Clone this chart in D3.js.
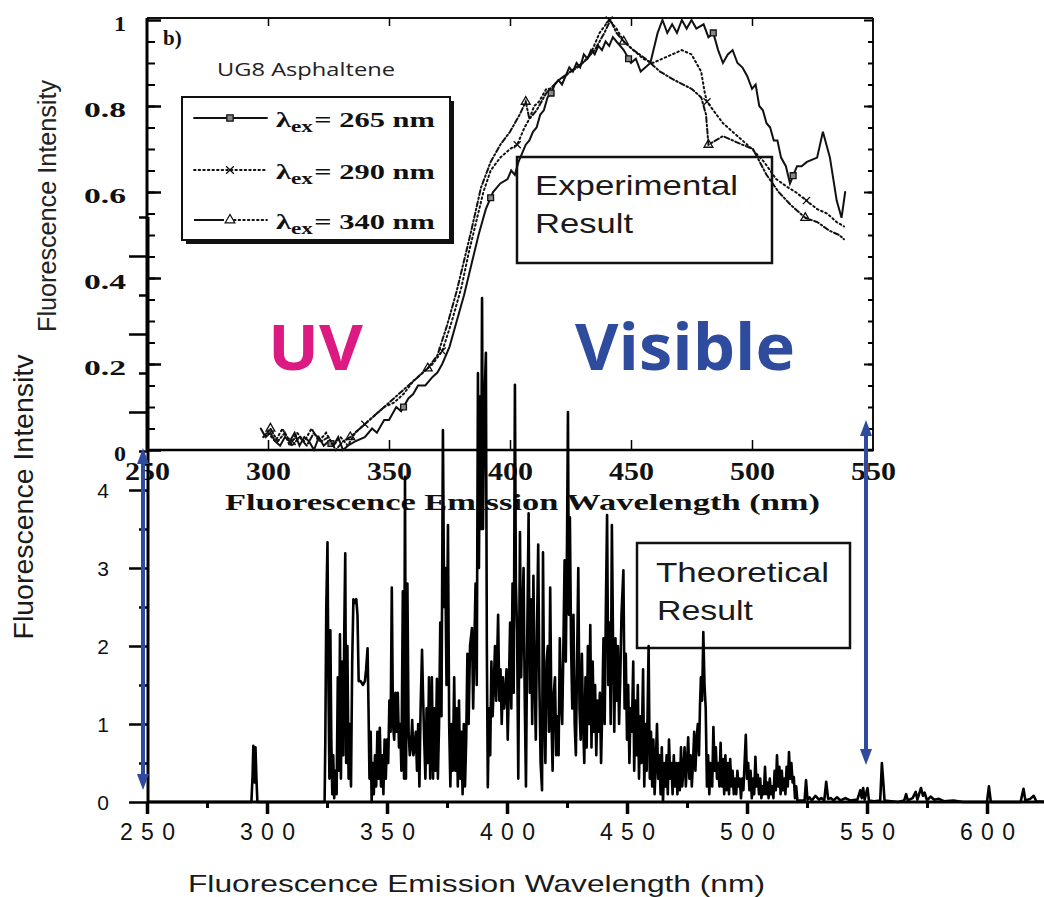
<!DOCTYPE html>
<html>
<head>
<meta charset="utf-8">
<script src="https://cdnjs.cloudflare.com/ajax/libs/d3/7.8.5/d3.min.js"></script>
<style>
  body { margin: 0; background: #fff; }
  svg { display: block; }
</style>
</head>
<body>
<script>
// page size
var svgWidth = 1044;
var svgHeight = 897;

// ---- top panel: measured emission spectra (wavelength nm, normalised intensity)
var exp265 = [[297,0.05],[299,0.03],[301,0.04],[303,0.02],[305,0.01],[307,0.03],[309,0.02],[311,0.04],[313,0.01],
  [315,0.03],[317,0.02],[319,0.0],[321,0.03],[323,0.01],[325,0.02],[327,0.01],[329,0.03],[331,0.0],[333,0.01],
  [336,0.02],[340,0.03],[343,0.05],[345,0.04],[348,0.07],[350,0.07],[353,0.1],[355,0.09],[358,0.12],[360,0.13],
  [362,0.15],[365,0.15],[368,0.17],[370,0.18],[372,0.2],[375,0.24],[378,0.3],[381,0.36],[384,0.43],[387,0.5],
  [390,0.56],[393,0.6],[396,0.62],[399,0.63],[400.5,0.65],[402,0.64],[403.5,0.67],[405,0.69],[406.5,0.71],
  [408,0.72],[409.5,0.74],[411,0.75],[412.5,0.78],[414,0.79],[415.5,0.82],[417,0.83],[418.5,0.85],[420,0.86],
  [421.5,0.85],[423,0.87],[424.5,0.89],[426,0.88],[427.5,0.9],[429,0.89],[430.5,0.92],[432,0.91],[433.5,0.93],
  [435,0.92],[436.5,0.94],[438,0.93],[439.5,0.95],[441,0.94],[442.5,0.96],[444,0.95],[447,0.93],[450,0.9],
  [452,0.91],[454,0.88],[456,0.89],[458,0.9],[461,0.97],[463,1.0],[465,0.97],[467,0.99],[469,0.97],[471,1.0],
  [473,0.98],[475,1.0],[477,0.98],[480,0.99],[482,0.96],[484,0.97],[486,0.93],[488,0.9],[490,0.92],[492,0.93],
  [494,0.9],[496,0.89],[498,0.87],[500,0.84],[501.5,0.85],[503,0.8],[504.5,0.79],[506,0.76],[507.5,0.75],
  [509,0.72],[510.5,0.72],[512,0.68],[514,0.66],[515.7,0.62],[518.6,0.66],[520.5,0.66],[522.7,0.67],
  [526.9,0.68],[529.3,0.74],[532.2,0.68],[535,0.58],[537,0.54],[538.5,0.6]];

var exp290 = [[300,0.04],[303,0.02],[306,0.05],[309,0.01],[312,0.04],[315,0.02],[318,0.05],[321,0.02],[324,0.04],
  [327,0.01],[330,0.03],[333,0.01],[336,0.04],[340,0.06],[344,0.08],[348,0.1],[352,0.11],[356,0.13],[360,0.16],
  [364,0.18],[368,0.2],[372,0.23],[376,0.3],[380,0.38],[383,0.46],[386,0.53],[389,0.6],[392,0.65],[396,0.68],
  [400,0.7],[403,0.71],[406,0.75],[408,0.77],[410,0.8],[412,0.81],[415,0.84],[417,0.84],[420,0.86],[423,0.87],
  [425,0.88],[428,0.89],[430,0.9],[432,0.91],[434,0.93],[437,0.97],[441,1.0],[444,0.98],[447,0.95],[451,0.93],
  [455,0.91],[459,0.9],[463,0.91],[467,0.92],[471,0.93],[475,0.92],[479,0.88],[480.5,0.83],[481.4,0.81],
  [484,0.79],[488,0.76],[492,0.74],[496,0.72],[500,0.7],[505,0.67],[510,0.63],[515,0.61],[518,0.6],[522.5,0.58],
  [527,0.56],[531,0.55],[535,0.53],[538,0.52]];

var exp340 = [[298,0.03],[301,0.05],[304,0.02],[307,0.04],[310,0.01],[313,0.03],[316,0.01],[319,0.04],[322,0.02],
  [325,0.03],[328,0.0],[331,0.02],[334,0.03],[338,0.05],[342,0.07],[346,0.09],[350,0.11],[354,0.13],[358,0.15],
  [362,0.17],[366,0.19],[370,0.22],[374,0.29],[378,0.37],[381,0.44],[384,0.51],[388,0.61],[392,0.67],[396,0.71],
  [400,0.74],[404,0.78],[406.5,0.81],[408,0.77],[411,0.79],[415,0.83],[420,0.86],[425,0.88],[430,0.9],[435,0.93],
  [439,0.97],[441.5,1.0],[444,0.97],[447,0.95],[451,0.93],[456,0.91],[462,0.88],[468,0.86],[475,0.84],[479,0.82],
  [481,0.78],[482,0.71],[485,0.72],[488,0.73],[492,0.72],[496,0.71],[500.4,0.7],[506,0.64],[511,0.6],[516,0.57],
  [522,0.54],[527,0.53],[532,0.51],[536,0.5],[538,0.49]];

// wavelengths where the symbols sit on each curve
var marks265 = [326, 356, 392, 417, 449, 484, 517];
var marks290 = [310, 340, 372, 403, 441, 481.4, 522.5];
var marks340 = [301, 334, 366, 406.5, 447, 482, 522];

// ---- bottom panel: calculated spectrum (wavelength nm, intensity)
var theory = [[250,0],[293.5,0],[294,0.35],[294.3,0.72],[294.8,0.25],[295.2,0.7],[295.6,0.3],[296,0],
  [324,0],[324.3,0.8],[324.7,2.5],[325.2,3.33],[325.6,1.5],[326,0.3],[326.4,2.2],[326.8,0.8],[327.2,0.1],
  [327.6,0.6],[328,0.05],[328.5,0.4],[329,0.1],[329.5,1.6],[330,0.4],[330.4,2.15],[330.8,0.3],[331.3,1.8],
  [331.8,0.6],[332.2,2.2],[332.6,3.19],[333,0.5],[333.5,2.0],[334,0.3],[334.5,1.0],[335,0.2],[335.5,1.8],
  [336,2.6],[336.6,2.55],[337.2,2.6],[337.7,2.4],[338.2,1.55],[339,1.55],[340,1.5],[340.8,1.55],[341.3,1.7],
  [341.9,1.97],[342.3,1.2],[342.7,0.3],[343.2,0.9],[343.6,0.0],[344,0.5],[344.5,0.1],[345,0.6],[345.5,0.2],
  [346,0.9],[346.5,0.3],[347,0.95],[347.5,0.2],[348,0.6],[348.5,0.1],[349,0.8],[349.5,0.3],[350,0.8],
  [350.5,0.5],[351,1.3],[351.5,0.9],[352,2.75],[352.5,1.0],[353,0.8],[353.5,1.4],[354,0.9],[354.5,1.4],
  [355,0.7],[355.5,1.0],[356,0.4],[356.6,2.7],[357.1,0.3],[357.5,4.17],[357.9,0.3],[358.5,2.8],[359,0.9],
  [359.5,0.6],[360,0.7],[360.5,1.05],[361,0.6],[361.5,0.7],[362,0.9],[362.5,0.4],[363,1.0],[363.5,0.2],
  [364,1.2],[364.6,1.95],[365,1.4],[365.5,0.8],[366,0.3],[366.5,1.2],[367,0.5],[367.5,1.6],[368,0.3],
  [368.7,1.6],[369.2,0.3],[369.7,1.2],[370.2,0.4],[370.8,1.58],[371.2,0.3],[371.7,1.0],[372.2,2.3],
  [372.7,1.1],[373.3,4.77],[373.8,2.5],[374.3,3.0],[374.8,1.5],[375.4,3.55],[375.9,1.0],[376.4,0.2],
  [376.9,1.0],[377.4,0.4],[378,1.6],[378.5,0.4],[379,1.2],[379.5,0.2],[380,1.3],[380.5,0.3],[381,0.9],
  [381.5,0.1],[382,1.0],[382.5,0.2],[383,0.8],[383.5,1.9],[384,1.0],[384.6,2.0],[385.4,2.23],[385.9,1.2],
  [386.4,2.0],[386.9,2.8],[387.4,1.5],[387.9,5.5],[388.3,3.0],[388.8,5.2],[389.2,3.5],[389.6,6.46],[390,3.5],
  [390.5,5.0],[391.2,5.76],[391.6,2.0],[392,0.19],[392.5,1.2],[393,0.6],[393.5,1.8],[394,1.1],[394.5,1.5],
  [395,2.0],[395.5,1.3],[396.3,2.4],[396.8,1.3],[397.3,1.7],[397.8,1.0],[398.3,1.6],[398.8,1.2],[399.3,1.4],
  [399.8,1.7],[400.3,0.8],[400.8,1.5],[401.3,2.3],[401.8,1.2],[402.3,2.8],[402.8,1.4],[403.3,5.35],[403.7,2.8],
  [404.2,2.2],[404.7,0.3],[405.4,3.46],[405.9,1.6],[406.4,2.4],[406.9,3.0],[407.4,1.3],[407.9,0.2],[408.4,2.0],
  [409,3.7],[409.5,1.4],[410,2.6],[410.5,1.0],[411,2.9],[411.5,1.6],[412,0.8],[412.5,2.2],[413,3.3],[413.5,1.5],
  [414,0.5],[414.6,0.15],[415,3.2],[415.5,1.2],[416,0.5],[416.5,1.8],[417,2.0],[417.5,0.9],[418,2.75],
  [418.5,1.1],[419,0.4],[419.5,1.4],[420,1.6],[420.5,0.6],[421,1.1],[421.5,0.6],[422,2.1],[422.5,1.3],
  [423,1.0],[423.5,2.0],[424,3.1],[424.5,1.8],[425,3.3],[425.4,5.0],[425.8,2.4],[426.2,3.65],[426.7,2.0],
  [427.2,1.2],[427.7,2.4],[428.2,1.0],[428.7,0.6],[429.2,1.8],[429.7,3.0],[430.2,1.2],[430.7,0.8],[431.2,1.9],
  [431.7,1.0],[432.2,0.5],[432.7,1.6],[433.2,0.7],[433.7,2.0],[434.2,1.0],[434.7,2.27],[435.2,0.7],[435.7,1.8],
  [436.2,0.9],[436.7,1.5],[437.2,0.6],[437.7,1.3],[438.2,0.9],[438.7,1.4],[439.2,0.5],[439.7,1.2],[440.2,2.1],
  [440.7,1.0],[441.2,2.5],[441.7,3.68],[442.2,1.5],[442.7,2.3],[443.2,1.0],[443.7,3.55],[444.2,2.0],[444.7,0.9],
  [445.2,2.1],[445.7,1.3],[446.2,2.0],[446.7,1.0],[447.2,1.6],[447.7,2.4],[448.5,2.97],[449,1.2],[449.5,1.9],
  [450,0.8],[450.5,1.5],[451,0.5],[451.5,1.2],[452,0.9],[452.6,1.8],[453,0.4],[453.5,1.3],[454,0.6],[454.5,1.5],
  [455,0.3],[455.5,1.1],[456,0.5],[456.7,1.7],[457.2,0.2],[457.7,1.0],[458.2,0.4],[459,2.0],[459.5,0.3],
  [460,0.9],[460.5,0.2],[461,0.8],[461.5,0.1],[462,0.5],[462.5,1.0],[463,0.3],[463.5,0.6],[464,0.1],[464.5,0.7],
  [465,0.0],[465.5,0.5],[466,0.2],[466.5,0.6],[467,0.1],[467.5,0.8],[468,0.3],[468.5,0.5],[469,0.1],[469.5,0.6],
  [470,0.2],[470.5,0.5],[471,0.1],[471.5,0.5],[472,0.15],[472.5,0.7],[473,0.2],[473.5,0.4],[474,0.7],
  [474.5,0.2],[475,0.5],[475.5,0.83],[476,0.3],[476.5,0.6],[477,0.2],[477.5,0.5],[478,0.9],[478.5,0.4],
  [479,0.8],[479.5,1.0],[480,0.6],[480.4,1.22],[480.8,1.6],[481.3,1.3],[481.8,2.18],[482.3,1.5],[482.8,1.2],
  [483.3,0.2],[483.8,0.6],[484.3,0.1],[484.8,0.5],[485.5,0.2],[486,0.96],[486.5,0.4],[487,0.7],[487.5,0.3],
  [488,0.5],[488.5,0.2],[489,0.76],[489.5,0.2],[490,0.55],[490.5,0.1],[491,0.6],[491.5,0.15],[492,0.5],
  [492.5,0.1],[493,0.55],[493.5,0.2],[494,0.4],[494.5,0.1],[495,0.3],[495.5,0.1],[496,0.4],[496.5,0.2],
  [497,0.3],[497.5,0.05],[498,0.3],[498.5,0.15],[499.5,0.86],[500,0.3],[500.5,0.5],[501,0.15],[501.5,0.4],
  [502,0.05],[502.5,0.3],[503,0.1],[503.5,0.58],[504,0.2],[504.5,0.35],[505,0.1],[505.5,0.3],[506,0.05],
  [506.5,0.2],[507,0.1],[507.5,0.45],[508,0.1],[508.5,0.25],[509,0.05],[509.5,0.3],[510,0.1],[510.5,0.2],
  [511,0.05],[511.5,0.4],[512,0.15],[512.5,0.6],[513,0.2],[513.5,0.45],[514,0.1],[514.5,0.4],[515,0.15],
  [515.5,0.3],[516,0.1],[516.5,0.45],[517,0.2],[517.5,0.64],[518,0.3],[518.5,0.5],[519,0.25],[519.5,0.32],
  [520,0.05],[520.5,0.2],[521,0.02],[524,0.02],[524.6,0.28],[525.2,0.03],[526,0.06],[527,0.02],[528.5,0.08],
  [530,0.03],[531,0.05],[532.2,0.02],[533,0.26],[533.8,0.04],[535,0.05],[536,0.02],[537.5,0.06],[539,0.02],
  [541,0.05],[543,0.02],[546,0.03],[547.2,0.15],[547.8,0.05],[548.4,0.18],[549,0.03],[550.2,0.18],[550.8,0.02],
  [553,0.01],[555.5,0.02],[556.2,0.5],[556.8,0.25],[557.3,0.02],[563,0],[565.5,0.02],[566.3,0.1],[567,0.02],
  [569,0.05],[570.3,0.13],[571,0.03],[572.5,0.18],[573.3,0.08],[574,0.12],[575,0.02],[576.5,0.07],[578,0.03],
  [580,0.04],[582,0.01],[586,0.02],[590,0],[600,0],[600.8,0.2],[601.6,0],[614,0],[615.2,0.17],[616,0.02],
  [618,0.04],[619.5,0.08],[620.5,0.01],[626,0]];

// ticks / labels
var topXTicks = [250, 300, 350, 400, 450, 500, 550];
var topYTicks = [0, 0.2, 0.4, 0.6, 0.8, 1];
var topYLabels = ["0", "0.2", "0.4", "0.6", "0.8", "1"];
var botXTicks = [250, 300, 350, 400, 450, 500, 550, 600];
var botYTicks = [0, 1, 2, 3, 4, 5, 6, 7];
var legendLabels = ["265", "290", "340"];

var serif = "'Liberation Serif', 'DejaVu Serif', serif";
var sans = "'Liberation Sans', Arial, sans-serif";
var blue = "#2e4b9e";

var svg = d3.select("body").append("svg")
  .attr("width", svgWidth)
  .attr("height", svgHeight);

// scales
var xTop = d3.scaleLinear().domain([250, 550]).range([147, 873]);
var yTop = d3.scaleLinear().domain([0, 1]).range([450, 20]);
var xBot = d3.scaleLinear().domain([250, 550]).range([147, 867]);
var yBot = d3.scaleLinear().domain([0, 1]).range([802, 724]);

function valueAt(series, wl) {
  var i = d3.bisector(function (d) { return d[0]; }).left(series, wl);
  if (i <= 0) return series[0][1];
  if (i >= series.length) return series[series.length - 1][1];
  var a = series[i - 1], b = series[i];
  return a[1] + (b[1] - a[1]) * (wl - a[0]) / (b[0] - a[0]);
}

function styleTicks(g, w) {
  g.select(".domain").remove();
  g.selectAll(".tick line").attr("stroke", "#000").attr("stroke-width", w);
}

// ================= top panel =================
var topG = svg.append("g");

// frame
topG.append("line").attr("x1", xTop(250)).attr("x2", xTop(550)).attr("y1", 18).attr("y2", 18)
  .attr("stroke", "#111").attr("stroke-width", 2);
topG.append("line").attr("x1", xTop(550)).attr("x2", xTop(550)).attr("y1", 18).attr("y2", yTop(0))
  .attr("stroke", "#111").attr("stroke-width", 2);
topG.append("line").attr("x1", xTop(250) - 1).attr("x2", xTop(550) + 1).attr("y1", yTop(0)).attr("y2", yTop(0))
  .attr("stroke", "#000").attr("stroke-width", 2.5);
topG.append("line").attr("x1", xTop(250)).attr("x2", xTop(250)).attr("y1", 18).attr("y2", yTop(0))
  .attr("stroke", "#000").attr("stroke-width", 3);

// y ticks, inward, left and right
var minorY = d3.range(0.05, 1, 0.05);
topG.append("g").attr("transform", "translate(" + xTop(250) + ",0)")
  .call(d3.axisLeft(yTop).tickValues(minorY).tickSize(-8).tickFormat(""))
  .call(styleTicks, 2);
var leftAx = topG.append("g").attr("transform", "translate(" + xTop(250) + ",0)")
  .call(d3.axisLeft(yTop).tickValues(topYTicks).tickSize(-14)
    .tickFormat(function (d, i) { return topYLabels[i]; }))
  .call(styleTicks, 2.5);
leftAx.selectAll("text")
  .attr("x", -21).attr("dy", "0.5em")
  .attr("font-family", serif).attr("font-weight", "bold").attr("font-size", 20)
  .attr("fill", "#111")
  .attr("textLength", function (d, i) { return topYLabels[i].length > 1 ? 42 : 12; })
  .attr("lengthAdjust", "spacingAndGlyphs");

topG.append("g").attr("transform", "translate(" + xTop(550) + ",0)")
  .call(d3.axisRight(yTop).tickValues(minorY).tickSize(-5).tickFormat(""))
  .call(styleTicks, 2);
topG.append("g").attr("transform", "translate(" + xTop(550) + ",0)")
  .call(d3.axisRight(yTop).tickValues(topYTicks).tickSize(-9).tickFormat(""))
  .call(styleTicks, 2);

// x ticks, inward, top and bottom
topG.append("g").attr("transform", "translate(0,18)")
  .call(d3.axisTop(xTop).tickValues([300, 350, 400, 450, 500]).tickSize(-8).tickFormat(""))
  .call(styleTicks, 1.5);
topG.append("g").attr("transform", "translate(0," + yTop(0) + ")")
  .call(d3.axisBottom(xTop).tickValues([300, 350, 400, 450, 500]).tickSize(-10).tickFormat(""))
  .call(styleTicks, 1.5);
var topX = topG.append("g").attr("transform", "translate(0," + yTop(0) + ")")
  .call(d3.axisBottom(xTop).tickValues(topXTicks).tickSize(0))
  .call(styleTicks, 0);
topX.selectAll("text")
  .attr("y", 30).attr("dy", null)
  .attr("font-family", serif).attr("font-weight", "bold").attr("font-size", 25)
  .attr("fill", "#111")
  .attr("textLength", 45).attr("lengthAdjust", "spacingAndGlyphs");

// axis titles
topG.append("text")
  .attr("x", 225).attr("y", 510)
  .attr("font-family", serif).attr("font-weight", "bold").attr("font-size", 24)
  .attr("fill", "#111")
  .attr("textLength", 595).attr("lengthAdjust", "spacingAndGlyphs")
  .text("Fluorescence Emission Wavelength (nm)");
topG.append("text")
  .attr("transform", "translate(56,206) rotate(-90)")
  .attr("text-anchor", "middle")
  .attr("font-family", sans).attr("font-size", 25).attr("fill", "#222")
  .attr("textLength", 252).attr("lengthAdjust", "spacingAndGlyphs")
  .text("Fluorescence Intensity");

// curves
var lineTop = d3.line()
  .x(function (d) { return xTop(d[0]); })
  .y(function (d) { return yTop(d[1]); });

var seriesTop = [
  { data: exp265, dash: null, marks: marks265, sym: d3.symbolSquare, fill: "#888" },
  { data: exp290, dash: "1.6,3", marks: marks290, sym: d3.symbolTimes, fill: "none" },
  { data: exp340, dash: "5,2.5,1.6,2.5", marks: marks340, sym: d3.symbolTriangle, fill: "none" }
];

seriesTop.forEach(function (s) {
  topG.append("path")
    .datum(s.data)
    .attr("d", lineTop)
    .attr("fill", "none")
    .attr("stroke", "#111")
    .attr("stroke-width", 2)
    .attr("stroke-linecap", "round")
    .attr("stroke-dasharray", s.dash);
  topG.selectAll(null)
    .data(s.marks)
    .enter().append("path")
    .attr("transform", function (d) {
      return "translate(" + xTop(d) + "," + yTop(valueAt(s.data, d)) + ")";
    })
    .attr("d", d3.symbol().type(s.sym).size(34))
    .attr("fill", s.fill)
    .attr("stroke", "#111")
    .attr("stroke-width", 1.3);
});

// "b)" and sample name
topG.append("text").attr("x", 163).attr("y", 45)
  .attr("font-family", serif).attr("font-weight", "bold").attr("font-size", 21)
  .attr("fill", "#111").text("b)");
topG.append("text").attr("x", 217).attr("y", 76)
  .attr("font-family", "'Open Sans', sans-serif").attr("font-size", 18).attr("fill", "#222")
  .attr("textLength", 178).attr("lengthAdjust", "spacingAndGlyphs")
  .text("UG8 Asphaltene");

// legend box with drop shadow
var leg = topG.append("g");
leg.append("rect").attr("x", 186).attr("y", 101).attr("width", 268).attr("height", 143).attr("fill", "#111");
leg.append("rect").attr("x", 182).attr("y", 97).attr("width", 268).attr("height", 143)
  .attr("fill", "#fff").attr("stroke", "#111").attr("stroke-width", 2);

var legY = [118, 170, 220];
seriesTop.forEach(function (s, i) {
  var y = legY[i];
  if (i === 2) {
    leg.append("line").attr("x1", 194).attr("x2", 224).attr("y1", y).attr("y2", y)
      .attr("stroke", "#111").attr("stroke-width", 2);
    leg.append("line").attr("x1", 234).attr("x2", 267).attr("y1", y).attr("y2", y)
      .attr("stroke", "#111").attr("stroke-width", 1.8).attr("stroke-dasharray", "1.6,3")
      .attr("stroke-linecap", "round");
  } else {
    leg.append("line").attr("x1", 194).attr("x2", 267).attr("y1", y).attr("y2", y)
      .attr("stroke", "#111").attr("stroke-width", 1.8).attr("stroke-dasharray", s.dash)
      .attr("stroke-linecap", "round");
  }
  leg.append("path")
    .attr("transform", "translate(230," + y + ")")
    .attr("d", d3.symbol().type(s.sym).size(40))
    .attr("fill", s.fill === "none" ? "#fff" : s.fill)
    .attr("stroke", "#111").attr("stroke-width", 1.3);

  var t = leg.append("text")
    .attr("transform", "translate(276," + (y + 9) + ") scale(1.45,1)")
    .attr("font-family", serif).attr("font-weight", "bold").attr("font-size", 21)
    .attr("fill", "#111");
  t.append("tspan").text("\u03bb");
  t.append("tspan").attr("font-size", 16).attr("dy", 5).text("ex");
  t.append("tspan").attr("dy", -5).attr("dx", 1).text("= " + legendLabels[i] + " nm");
});

// Experimental Result box
topG.append("rect").attr("x", 517).attr("y", 157).attr("width", 255).attr("height", 106)
  .attr("fill", "none").attr("stroke", "#111").attr("stroke-width", 2.5);
topG.append("text").attr("x", 535).attr("y", 195)
  .attr("font-family", sans).attr("font-size", 28).attr("fill", "#1a1a1a")
  .attr("textLength", 203).attr("lengthAdjust", "spacingAndGlyphs").text("Experimental");
topG.append("text").attr("x", 535).attr("y", 233)
  .attr("font-family", sans).attr("font-size", 28).attr("fill", "#1a1a1a")
  .attr("textLength", 98).attr("lengthAdjust", "spacingAndGlyphs").text("Result");

// UV / Visible
svg.append("text").attr("x", 268).attr("y", 370)
  .attr("font-family", "'Open Sans', sans-serif").attr("font-weight", "bold").attr("font-size", 63)
  .attr("fill", "#dc1a82")
  .attr("textLength", 95).attr("lengthAdjust", "spacingAndGlyphs").text("UV");
svg.append("text").attr("x", 575).attr("y", 370)
  .attr("font-family", "'Open Sans', sans-serif").attr("font-weight", "bold").attr("font-size", 64)
  .attr("fill", blue)
  .attr("textLength", 220).attr("lengthAdjust", "spacingAndGlyphs").text("Visible");

// ================= bottom panel =================
var botG = svg.append("g");

// axis lines
botG.append("line").attr("x1", xBot(250)).attr("x2", svgWidth).attr("y1", yBot(0)).attr("y2", yBot(0))
  .attr("stroke", "#000").attr("stroke-width", 3);
botG.append("line").attr("x1", xBot(250) + 1).attr("x2", xBot(250) + 1).attr("y1", yBot(0) + 1).attr("y2", yBot(7.5))
  .attr("stroke", "#000").attr("stroke-width", 3);

// y ticks (outward)
botG.append("g").attr("transform", "translate(" + (xBot(250) + 1) + ",0)")
  .call(d3.axisLeft(yBot).tickValues(d3.range(0.5, 8, 1)).tickSize(9).tickFormat(""))
  .call(styleTicks, 2.5);
var botY = botG.append("g").attr("transform", "translate(" + (xBot(250) + 1) + ",0)")
  .call(d3.axisLeft(yBot).tickValues(botYTicks).tickSize(19)
    .tickFormat(function (d) { return d <= 4 ? d : ""; }))
  .call(styleTicks, 2.5);
botY.selectAll("text")
  .attr("x", -39).attr("dy", "0.38em")
  .attr("font-family", sans).attr("font-size", 21).attr("fill", "#111");

// x ticks (outward)
botG.append("g").attr("transform", "translate(0," + yBot(0) + ")")
  .call(d3.axisBottom(xBot).tickValues(d3.range(275, 625, 50)).tickSize(6).tickFormat(""))
  .call(styleTicks, 3);
var botX = botG.append("g").attr("transform", "translate(0," + yBot(0) + ")")
  .call(d3.axisBottom(xBot).tickValues(botXTicks).tickSize(12))
  .call(styleTicks, 3.5);
botX.selectAll("text")
  .attr("y", 38).attr("dy", null)
  .attr("font-family", sans).attr("font-size", 23).attr("fill", "#111")
  .attr("textLength", 55).attr("lengthAdjust", "spacing");

// titles
botG.append("text").attr("x", 188).attr("y", 892)
  .attr("font-family", sans).attr("font-size", 24).attr("fill", "#1a1a1a")
  .attr("textLength", 577).attr("lengthAdjust", "spacingAndGlyphs")
  .text("Fluorescence Emission Wavelength (nm)");
botG.append("text")
  .attr("transform", "translate(33,497) rotate(-90)")
  .attr("text-anchor", "middle")
  .attr("font-family", sans).attr("font-size", 28).attr("fill", "#1a1a1a")
  .attr("textLength", 285).attr("lengthAdjust", "spacingAndGlyphs")
  .text("Fluorescence Intensitv");

// Theoretical Result box
botG.append("rect").attr("x", 637).attr("y", 543).attr("width", 213).attr("height", 105)
  .attr("fill", "none").attr("stroke", "#111").attr("stroke-width", 2.5);
botG.append("text").attr("x", 656).attr("y", 582)
  .attr("font-family", sans).attr("font-size", 28).attr("fill", "#1a1a1a")
  .attr("textLength", 173).attr("lengthAdjust", "spacingAndGlyphs").text("Theoretical");
botG.append("text").attr("x", 657).attr("y", 620)
  .attr("font-family", sans).attr("font-size", 28).attr("fill", "#1a1a1a")
  .attr("textLength", 96).attr("lengthAdjust", "spacingAndGlyphs").text("Result");

// spectrum
var lineBot = d3.line()
  .x(function (d) { return xBot(d[0]); })
  .y(function (d) { return yBot(d[1]); });
botG.append("path")
  .datum(theory)
  .attr("d", lineBot)
  .attr("fill", "none")
  .attr("stroke", "#000")
  .attr("stroke-width", 2.6)
  .attr("stroke-linejoin", "round");

// ================= blue double arrows =================
function arrow(x, y1, y2) {
  var g = svg.append("g").attr("fill", blue).attr("stroke", blue);
  g.append("line").attr("x1", x).attr("x2", x).attr("y1", y1 + 10).attr("y2", y2 - 10)
    .attr("stroke-width", 4);
  g.append("path").attr("stroke", "none")
    .attr("d", "M" + x + "," + y1 + " L" + (x - 6) + "," + (y1 + 16) + " L" + (x + 6) + "," + (y1 + 16) + " Z");
  g.append("path").attr("stroke", "none")
    .attr("d", "M" + x + "," + y2 + " L" + (x - 6) + "," + (y2 - 16) + " L" + (x + 6) + "," + (y2 - 16) + " Z");
}
arrow(xBot(250) - 4, 448, 790);
arrow(xBot(550) - 1, 420, 765);
</script>
</body>
</html>
